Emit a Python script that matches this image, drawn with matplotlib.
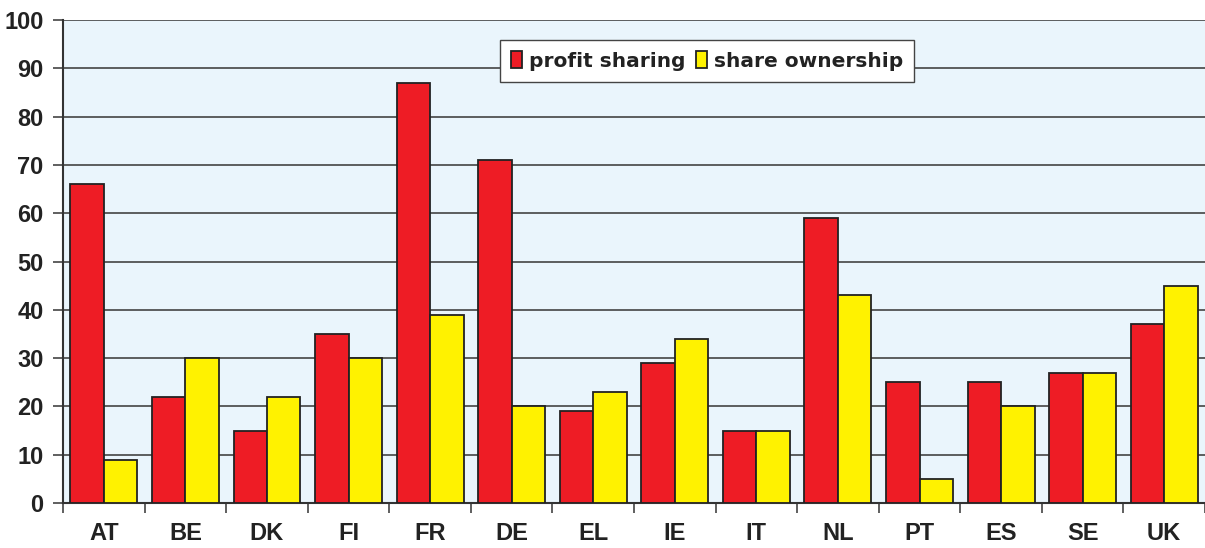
import numpy as np
import matplotlib.pyplot as plt
from matplotlib.ticker import FixedLocator

countries = ['AT', 'BE', 'DK', 'FI', 'FR', 'DE', 'EL', 'IE', 'IT', 'NL', 'PT', 'ES', 'SE', 'UK']
profit_sharing = [66, 22, 15, 35, 87, 71, 19, 29, 15, 59, 25, 25, 27, 37]
share_ownership = [9, 30, 22, 30, 39, 20, 23, 34, 15, 43, 5, 20, 27, 45]

plt.rcParams['font.family'] = ['Liberation Sans', 'DejaVu Sans']
plt.rcParams['font.weight'] = 'bold'

fig = plt.figure(figsize=(12.05, 5.48), dpi=100)
ax = fig.add_axes([0.0523, 0.082, 0.9477, 0.8815])
ax.set_facecolor('#eaf5fc')

x = np.arange(len(countries))
w = 0.41
ax.bar(x - w/2, profit_sharing, w, color='#ee1c25', edgecolor='#222222', lw=1.3,
       label='profit sharing', zorder=3)
ax.bar(x + w/2, share_ownership, w, color='#fff200', edgecolor='#222222', lw=1.3,
       label='share ownership', zorder=3)

ax.set_xlim(-0.5, len(countries) - 0.5)
ax.set_ylim(0, 100)
ax.set_yticks(range(0, 101, 10))
ax.yaxis.grid(True, color='#444444', lw=1.2, zorder=0)
ax.set_axisbelow(True)

# boundary ticks without labels, labels at group centres
ax.xaxis.set_major_locator(FixedLocator(np.arange(-0.5, len(countries), 1.0)))
ax.set_xticklabels([])
ax.set_xticks(x, minor=True)
ax.set_xticklabels(countries, minor=True)
ax.tick_params(axis='x', which='major', length=7, width=1.2, color='#444444')
ax.tick_params(axis='x', which='minor', length=0, pad=13.5, labelsize=17)
ax.tick_params(axis='y', length=7, width=1.2, color='#444444', labelsize=17, pad=7)
for lab in ax.get_xticklabels(minor=True) + ax.get_yticklabels():
    lab.set_fontweight('bold')
    lab.set_color('#222222')

for s in ['top', 'right']:
    ax.spines[s].set_visible(False)
ax.spines['left'].set_color('#333333')
ax.spines['left'].set_linewidth(1.5)
ax.spines['bottom'].set_color('#333333')
ax.spines['bottom'].set_linewidth(1.5)

leg = ax.legend(loc='upper left', bbox_to_anchor=(0.374, 0.979), ncol=2,
                prop={'family': 'DejaVu Sans', 'size': 14.5, 'weight': 'bold'},
                fancybox=False, framealpha=1,
                edgecolor='#444444', handlelength=0.55, handleheight=0.9,
                handletextpad=0.35, columnspacing=0.5, borderpad=0.55)
leg.get_frame().set_linewidth(1.0)
for t in leg.get_texts():
    t.set_color('#222222')

fig.savefig('out.png', dpi=100)
